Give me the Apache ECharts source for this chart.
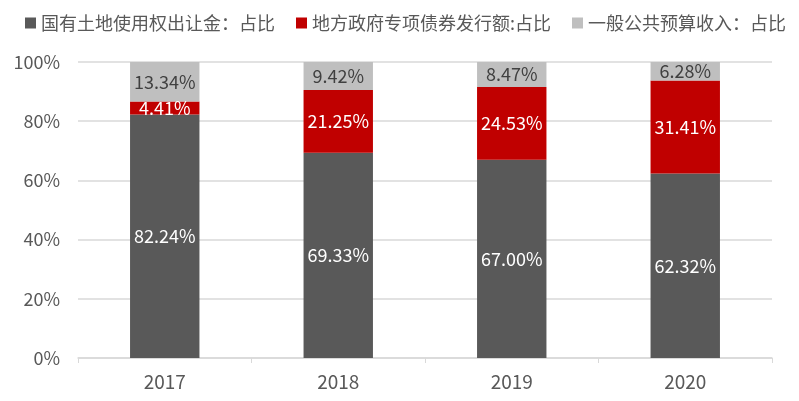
<!DOCTYPE html>
<html><head><meta charset="utf-8">
<script src="https://cdn.jsdelivr.net/npm/echarts@6/dist/echarts.min.js"></script>
<style>html,body{margin:0;padding:0;background:#fff}#c{width:799px;height:401px}</style>
</head><body><div id="c"></div>
<script>
const categories = ['2017','2018','2019','2020'];
const landShare = [82.24, 69.33, 67.00, 62.32];
const bondShare = [4.41, 21.25, 24.53, 31.41];
const budgetShare = [13.34, 9.42, 8.47, 6.28];
const seriesNames = ['国有土地使用权出让金：占比','地方政府专项债券发行额:占比','一般公共预算收入：占比'];
const yTicks = [0,20,40,60,80,100];

const font = '"Noto Sans CJK SC", "Noto Sans", sans-serif';
const chart = echarts.init(document.getElementById('c'));
const fmt = p => p.value.toFixed(2) + '%';
function mk(name, data, color, labelColor) {
  return {
    name, type: 'bar', stack: 'total', data, barWidth: '40%',
    itemStyle: { color },
    label: { show: true, position: 'inside', formatter: fmt, color: labelColor, fontSize: 18, fontFamily: font },
    emphasis: { disabled: true }
  };
}
chart.setOption({
  animation: false,
  textStyle: { fontFamily: font },
  legend: {
    top: 9, left: 20, itemWidth: 11, itemHeight: 11, itemGap: 21,
    icon: 'rect',
    textStyle: { fontSize: 18, color: '#595959', fontFamily: font },
    data: seriesNames
  },
  grid: { left: 78, right: 27, top: 62, bottom: 43 },
  xAxis: {
    type: 'category', data: categories,
    axisLine: { lineStyle: { color: '#d9d9d9', width: 1.5 } },
    axisTick: { show: true, length: 5, lineStyle: { color: '#d9d9d9' } },
    axisLabel: { color: '#595959', fontSize: 19, margin: 14, fontFamily: font }
  },
  yAxis: {
    type: 'value', min: 0, max: 100, interval: 20,
    axisLabel: { formatter: v => v + '%', color: '#595959', fontSize: 18, margin: 18, fontFamily: font },
    axisLine: { show: false }, axisTick: { show: false },
    splitLine: { lineStyle: { color: '#d9d9d9', width: 1.5 } }
  },
  series: [
    mk(seriesNames[0], landShare, '#595959', '#ffffff'),
    mk(seriesNames[1], bondShare, '#c00000', '#ffffff'),
    mk(seriesNames[2], budgetShare, '#bfbfbf', '#404040')
  ]
});
</script></body></html>
